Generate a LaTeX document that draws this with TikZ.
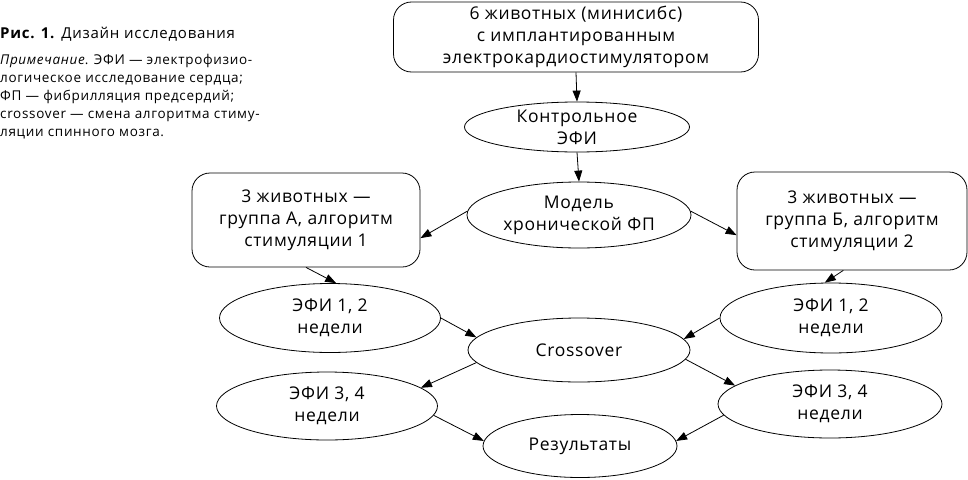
\documentclass[tikz,border=0pt]{standalone}
\usepackage{fontspec}
\setmainfont{Open Sans}
\newfontfamily\diagfont[LetterSpace=4]{Open Sans}
\newfontfamily\notefont[LetterSpace=5]{Open Sans}
\usetikzlibrary{shapes.geometric,arrows.meta}

\begin{document}
\begin{tikzpicture}[x=1pt,y=-1pt,
  box/.style={draw,rounded corners=18pt,align=center,inner sep=0pt,line width=0.8pt,
    font=\diagfont\fontsize{17.5}{22}\selectfont},
  oval/.style={draw,ellipse,align=center,inner sep=0pt,line width=0.8pt,
    font=\diagfont\fontsize{17.5}{22}\selectfont},
  arr/.style={-{Triangle[length=11pt,width=8pt]},line width=0.8pt}]
\useasboundingbox (0,0) rectangle (968,479);

% caption
\node[anchor=base west,inner sep=0pt,font=\notefont\fontsize{15}{18}\selectfont] (title) at (0,38)
  {\textbf{Рис. 1.} Дизайн исследования};
\node[anchor=north west,inner sep=0pt,align=left,font=\notefont\fontsize{13.5}{18}\selectfont] (note) at (0,54)
  {\textit{Примечание}. ЭФИ — электрофизио-\\логическое исследование сердца;\\ФП — фибрилляция предсердий;\\crossover — смена алгоритма стиму-\\ляции спинного мозга.};

% nodes
\node[box,minimum width=365,minimum height=70] (top) at (576,37)
  {6 животных (минисибс)\\с имплантированным\\электрокардиостимулятором};
\node[oval,minimum width=225,minimum height=50] (ctrl) at (577,127) {Контрольное\\ЭФИ};
\node[oval,minimum width=224,minimum height=66] (model) at (579,215) {Модель\\хронической ФП};
\node[box,minimum width=228,minimum height=94] (grA) at (306,220)
  {3 животных —\\группа А, алгоритм\\стимуляции 1};
\node[box,minimum width=230,minimum height=98] (grB) at (852,221)
  {3 животных —\\группа Б, алгоритм\\стимуляции 2};
\node[oval,minimum width=221,minimum height=69] (efiAa) at (330,318) {ЭФИ 1, 2\\недели};
\node[oval,minimum width=222,minimum height=70] (efiBa) at (831,318) {ЭФИ 1, 2\\недели};
\node[oval,minimum width=222,minimum height=64] (cross) at (579,350) {Crossover};
\node[oval,minimum width=221,minimum height=68] (efiAb) at (327,406) {ЭФИ 3, 4\\недели};
\node[oval,minimum width=224,minimum height=68] (efiBb) at (830,404) {ЭФИ 3, 4\\недели};
\node[oval,minimum width=194,minimum height=63] (res) at (580,446) {Результаты};

% arrows
\draw[arr] (top.south) -- (ctrl.north);
\draw[arr] (ctrl.south) -- (model.north);
\draw[arr] (model.178) -- (grA.-9);
\draw[arr] (model.2) -- (grB.187);
\draw[arr] (grA.south) -- (efiAa.80);
\draw[arr] (grB.-100) -- (efiBa.100);
\draw[arr] (efiAa.east) -- (cross.173);
\draw[arr] (efiBa.west) -- (cross.6);
\draw[arr] (cross.187) -- (efiAb.11);
\draw[arr] (cross.-5) -- (efiBb.169);
\draw[arr] (efiAb.-5) -- (res.177);
\draw[arr] (efiBb.186) -- (res.3);

\end{tikzpicture}
\end{document}
